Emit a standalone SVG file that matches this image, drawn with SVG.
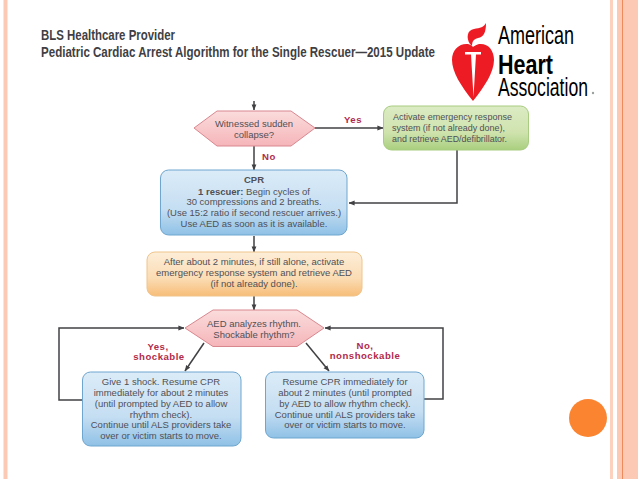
<svg xmlns="http://www.w3.org/2000/svg" width="638" height="479" viewBox="0 0 638 479">
<style>
text{font-family:"Liberation Sans",Arial,sans-serif;text-anchor:middle;fill:#505056;font-size:9.5px}
.b{font-weight:bold}
.s{text-anchor:start}
.t{text-anchor:start;font-size:14px;font-weight:bold;fill:#3f3f44}
.l{fill:#b22a4a;font-weight:bold;font-size:9.6px;letter-spacing:.5px}
.c{fill:none;stroke:#414144;stroke-width:1.5}
.blue{fill:url(#gb);stroke:#6fa6cf;stroke-width:1}
.hex{fill:url(#gp);stroke:#d9878f;stroke-width:1}
.logo{text-anchor:start;fill:#000;font-size:25px}
.logo.b{font-size:27px}
</style>
<defs>
<linearGradient id="gb" x1="0" y1="0" x2="0" y2="1"><stop offset="0" stop-color="#dcecf8"/><stop offset=".6" stop-color="#c5def2"/><stop offset="1" stop-color="#8fc1e6"/></linearGradient>
<linearGradient id="gp" x1="0" y1="0" x2="0" y2="1"><stop offset="0" stop-color="#fbdcdc"/><stop offset="1" stop-color="#f5b5b9"/></linearGradient>
<linearGradient id="gg" x1="0" y1="0" x2="0" y2="1"><stop offset="0" stop-color="#dcebc4"/><stop offset=".6" stop-color="#cfe3ae"/><stop offset="1" stop-color="#a9cf7e"/></linearGradient>
<linearGradient id="go" x1="0" y1="0" x2="0" y2="1"><stop offset="0" stop-color="#fdeed8"/><stop offset=".6" stop-color="#fbdcb4"/><stop offset="1" stop-color="#f7bd78"/></linearGradient>
<marker id="a" viewBox="0 0 8 8" refX="7.5" refY="4" markerWidth="6" markerHeight="6" markerUnits="userSpaceOnUse" orient="auto"><path d="M0 .8L8 4L0 7.2z" fill="#414144"/></marker>
</defs>
<rect width="638" height="479" fill="#fff"/>
<g id="frame">
<rect x="3.500" y="0" width="4" height="479" fill="#fcc9b4"/>
<rect x="610" y="0" width="3" height="479" fill="#fcd2bf"/>
<rect x="617" y="0" width="21" height="479" fill="#fcc9b4"/>
<rect x="622" y="0" width="1" height="479" fill="#ee8a5c"/>
<circle cx="588" cy="418" r="19" fill="#fb8431"/>
</g>
<g id="title">
<text class="t" x="41" y="40" textLength="134" lengthAdjust="spacingAndGlyphs">BLS Healthcare Provider</text>
<text class="t" x="41" y="57" textLength="394" lengthAdjust="spacingAndGlyphs">Pediatric Cardiac Arrest Algorithm for the Single Rescuer—2015 Update</text>
</g>
<g id="logo">
<path d="M470 44C466 38 467 30 474 29C480 28 484 27 486 23C486 32 484 37 478 38C474 39 472 41 472 46Z" fill="#ed1c24"/>
<path d="M473 101C461 86 452 72 452 60C452 49 460 43 468 44C472 45 473 47 473 47C473 47 475 45 479 44C488 43 494 50 494 60C494 72 485 86 473 101Z" fill="#ed1c24"/>
<path d="M465 52H481V54.500H476L473.500 97L471 54.500H465Z" fill="#fff"/>
<text class="logo" x="498" y="44" textLength="76" lengthAdjust="spacingAndGlyphs">American</text>
<text class="logo b" x="498" y="74" textLength="55" lengthAdjust="spacingAndGlyphs">Heart</text>
<text class="logo" x="498" y="96" textLength="90" lengthAdjust="spacingAndGlyphs">Association</text>
<circle cx="593" cy="93" r="1.200" fill="#9aa0a0"/>
</g>
<g id="connectors">
<path class="c" d="M254 101V110" marker-end="url(#a)"/>
<path class="c" d="M254 146V170" marker-end="url(#a)"/>
<path class="c" d="M254 236V252" marker-end="url(#a)"/>
<path class="c" d="M254 296V310" marker-end="url(#a)"/>
<path class="c" d="M315 128H383" marker-end="url(#a)"/>
<path class="c" d="M457 150V203H349" marker-end="url(#a)"/>
<path class="c" d="M82 400H59V328H184" marker-end="url(#a)"/>
<path class="c" d="M424 399H443V328H325" marker-end="url(#a)"/>
<path class="c" d="M204 343L185 371" marker-end="url(#a)"/>
<path class="c" d="M306 343L329 371" marker-end="url(#a)"/>
</g>
<g id="witnessed">
<path class="hex" d="M194 128L217 111H291L315 128L291 146H217Z"/>
<text x="254" y="127">Witnessed sudden</text><text x="254" y="138">collapse?</text>
</g>
<g id="activate">
<rect x="383.500" y="106" width="145" height="44" rx="8" fill="url(#gg)" stroke="#a8cc80"/>
<text class="s" x="393" y="120" textLength="119" lengthAdjust="spacingAndGlyphs">Activate emergency response</text>
<text class="s" x="392" y="131" textLength="113" lengthAdjust="spacingAndGlyphs">system (if not already done),</text>
<text class="s" x="392" y="142" textLength="115" lengthAdjust="spacingAndGlyphs">and retrieve AED/defibrillator.</text>
</g>
<g id="cpr">
<rect class="blue" x="160.500" y="170" width="186.500" height="65" rx="8"/>
<text class="b" x="254" y="183">CPR</text>
<text x="254" y="194.500"><tspan class="b">1 rescuer:</tspan> Begin cycles of</text>
<text x="254" y="205">30 compressions and 2 breaths.</text>
<text x="254" y="216">(Use 15:2 ratio if second rescuer arrives.)</text>
<text x="254" y="226.500">Use AED as soon as it is available.</text>
</g>
<g id="after">
<rect x="147" y="252" width="215" height="44" rx="8" fill="url(#go)" stroke="#f0c48c"/>
<text x="254" y="265">After about 2 minutes, if still alone, activate</text>
<text x="254" y="276">emergency response system and retrieve AED</text>
<text x="254" y="286.500">(if not already done).</text>
</g>
<g id="aed">
<path class="hex" d="M185 328L213 310H297L324 328L297 346.500H213Z"/>
<text x="254" y="327">AED analyzes rhythm.</text><text x="254" y="337.500">Shockable rhythm?</text>
</g>
<g id="shock">
<rect class="blue" x="82.500" y="372" width="158.500" height="74" rx="8"/>
<text x="161" y="385">Give 1 shock. Resume CPR</text>
<text x="161" y="396">immediately for about 2 minutes</text>
<text x="161" y="407">(until prompted by AED to allow</text>
<text x="161" y="418">rhythm check).</text>
<text x="161" y="428">Continue until ALS providers take</text>
<text x="161" y="438.500">over or victim starts to move.</text>
</g>
<g id="nonshock">
<rect class="blue" x="265.500" y="372" width="158.500" height="66" rx="8"/>
<text x="345" y="385">Resume CPR immediately for</text>
<text x="345" y="396">about 2 minutes (until prompted</text>
<text x="345" y="407">by AED to allow rhythm check).</text>
<text x="345" y="418">Continue until ALS providers take</text>
<text x="345" y="428">over or victim starts to move.</text>
</g>
<g id="labels">
<text class="l" x="353" y="123">Yes</text>
<text class="l" x="269" y="160">No</text>
<text class="l" x="158" y="350">Yes,</text>
<text class="l" x="159" y="360">shockable</text>
<text class="l" x="365" y="349">No,</text>
<text class="l" x="365" y="359">nonshockable</text>
</g>
</svg>
